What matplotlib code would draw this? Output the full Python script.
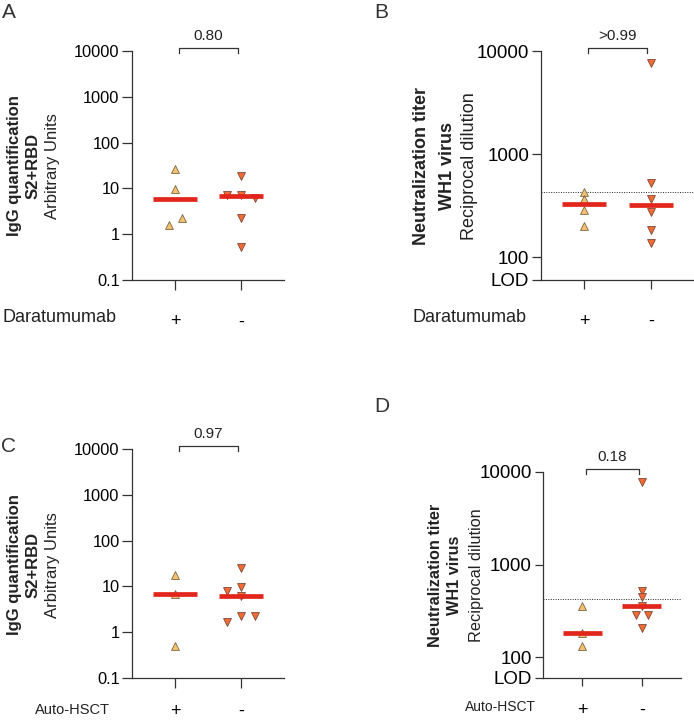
import numpy as np
import matplotlib.pyplot as plt

plt.rcParams['font.family'] = ['Liberation Sans', 'DejaVu Sans']
plt.rcParams['text.color'] = '#222222'

W, H = 694, 720

# IgG S2+RBD (arbitrary units), split by daratumumab / auto-HSCT
igg_dara_pos = [26, 9.5, 2.3, 1.6]
igg_dara_neg = [18.5, 7.3, 7.3, 6.2, 2.3, 0.52]
igg_hsct_pos = [17.3, 6.9, 0.49]
igg_hsct_neg = [25.5, 9.6, 8.0, 6.3, 2.3, 2.3, 1.65]

# neutralization titer WH1 virus (reciprocal dilution)
neut_dara_pos = [430, 363, 286, 200]
neut_dara_neg = [7700, 520, 370, 275, 183, 138]
neut_hsct_pos = [357, 182, 133]
neut_hsct_neg = [7800, 525, 445, 363, 289, 289, 209]

p_values = ['0.80', '>0.99', '0.97', '0.18']
group_labels = ['+', '-']
lod = 60
threshold = 427

# horizontal scatter offsets so overlapping points stay visible
jit_a = ([0, 0, 0.1, -0.09], [0, -0.21, 0, 0.21, 0, 0])
jit_b = ([0, 0, 0, 0], [0, 0, 0, 0, 0, 0])
jit_c = ([0, 0, 0], [0, 0, -0.21, 0, 0, 0.21, -0.21])
jit_d = ([0, 0, 0], [0, 0, 0, 0, -0.1, 0.1, 0])

up_col, up_edge = '#F4C26C', '#7a6444'
dn_col, dn_edge = '#F26B34', '#7a4636'
med_col = '#E3261B'
ink = '#333333'


def px_axes(fig, l, t, r, b):
    return fig.add_axes([l / W, 1 - b / H, (r - l) / W, (b - t) / H])


def draw_panel(ax, pos, neg, jit, pval, ticks, ticklabels, ylim, xlim,
               tick_fs, tick_len, lab_pad, dotted=False):
    h_px = ax.get_position().height * H
    ax.scatter(np.array(jit[0]), pos, marker='^', s=32, color=up_col,
               edgecolors=up_edge, linewidths=0.6, zorder=3, clip_on=False)
    ax.scatter(1 + np.array(jit[1]), neg, marker='v', s=32, color=dn_col,
               edgecolors=dn_edge, linewidths=0.6, zorder=3, clip_on=False)
    for x, vals in zip([0, 1], [pos, neg]):
        ax.hlines(np.median(vals), x - 0.33, x + 0.33, color=med_col,
                  lw=3.4, zorder=4)
    if dotted:
        ax.axhline(threshold, ls=(0, (1, 1.5)), lw=0.7, color='#222222',
                   zorder=1)

    ax.set_yscale('log')
    ax.set_ylim(*ylim)
    ax.set_xlim(*xlim)
    ax.set_yticks(ticks)
    ax.set_yticklabels(ticklabels, fontsize=tick_fs)
    ax.yaxis.set_minor_locator(plt.NullLocator())
    ax.set_xticks([0, 1])
    ax.set_xticklabels(group_labels, fontsize=13)
    ax.tick_params(axis='both', length=tick_len, width=0.9, color=ink)
    ax.tick_params(axis='x', pad=lab_pad)
    ax.tick_params(axis='y', pad=2)
    for side in ['top', 'right']:
        ax.spines[side].set_visible(False)
    for side in ['left', 'bottom']:
        ax.spines[side].set_color(ink)
        ax.spines[side].set_linewidth(0.9)
    ax.patch.set_alpha(0)

    # significance bracket above the two groups
    tr = ax.get_xaxis_transform()
    y_top = 1 + 2.7 / h_px
    y_lo = 1 - 1.7 / h_px
    ax.plot([0.06, 0.06, 0.95, 0.95], [y_lo, y_top, y_top, y_lo],
            color=ink, lw=0.9, transform=tr, clip_on=False)
    ax.annotate(pval, xy=(0.5, 1), xycoords=tr, xytext=(0, 15),
                textcoords='offset pixels', ha='center', va='center',
                fontsize=11)


fig = plt.figure(figsize=(W / 100, H / 100), dpi=100)

igg_ticks = [0.1, 1, 10, 100, 1000, 10000]
igg_labels = ['0.1', '1', '10', '100', '1000', '10000']
neut_ticks = [lod, 100, 1000, 10000]
neut_labels = ['LOD', '100', '1000', '10000']

ax_a = px_axes(fig, 132, 51, 284, 280)
draw_panel(ax_a, igg_dara_pos, igg_dara_neg, jit_a, p_values[0],
           igg_ticks, igg_labels, (0.1, 10000), (-0.65, 1.65),
           11.8, 7, 17)

ax_b = px_axes(fig, 541, 51, 694, 280)
draw_panel(ax_b, neut_dara_pos, neut_dara_neg, jit_b, p_values[1],
           neut_ticks, neut_labels, (lod, 10000), (-0.65, 1.65),
           13.5, 6.5, 17, dotted=True)

ax_c = px_axes(fig, 132, 449, 284, 678)
draw_panel(ax_c, igg_hsct_pos, igg_hsct_neg, jit_c, p_values[2],
           igg_ticks, igg_labels, (0.1, 10000), (-0.65, 1.65),
           11.8, 7, 11)

ax_d = px_axes(fig, 543, 472, 681, 678)
draw_panel(ax_d, neut_hsct_pos, neut_hsct_neg, jit_d, p_values[3],
           neut_ticks, neut_labels, (lod, 10000), (-0.66, 1.66),
           13.5, 6, 11, dotted=True)


def ftext(x, y, s, **kw):
    fig.text(x / W, 1 - y / H, s, **kw)


# panel letters
for x, y, s in [(9, 12, 'A'), (381, 12, 'B'), (9, 447, 'C'), (382, 407, 'D')]:
    ftext(x, y, s, fontsize=15, ha='center', va='center', color=ink)

# group row titles
ftext(3, 318, 'Daratumumab', fontsize=13, va='center')
ftext(413, 317, 'Daratumumab', fontsize=13, va='center')
ftext(35, 710, 'Auto-HSCT', fontsize=10.5, va='center')
ftext(465, 707, 'Auto-HSCT', fontsize=10, va='center')

# y axis titles: two bold lines and one regular line
igg_title = ['IgG quantification', 'S2+RBD', 'Arbitrary Units']
neut_title = ['Neutralization titer', 'WH1 virus', 'Reciprocal dilution']
for title, xs, yc, fs in [(igg_title, (15, 33, 53), 166, 12),
                          (igg_title, (15, 33, 53), 565, 12),
                          (neut_title, (422, 447, 469), 166, 13),
                          (neut_title, (436, 455, 477), 575, 11.7)]:
    for i, (line, x) in enumerate(zip(title, xs)):
        ftext(x, yc, line, fontsize=fs, rotation=90, ha='center', va='center',
              fontweight='bold' if i < 2 else 'normal')

fig.savefig('out.png', dpi=100)
